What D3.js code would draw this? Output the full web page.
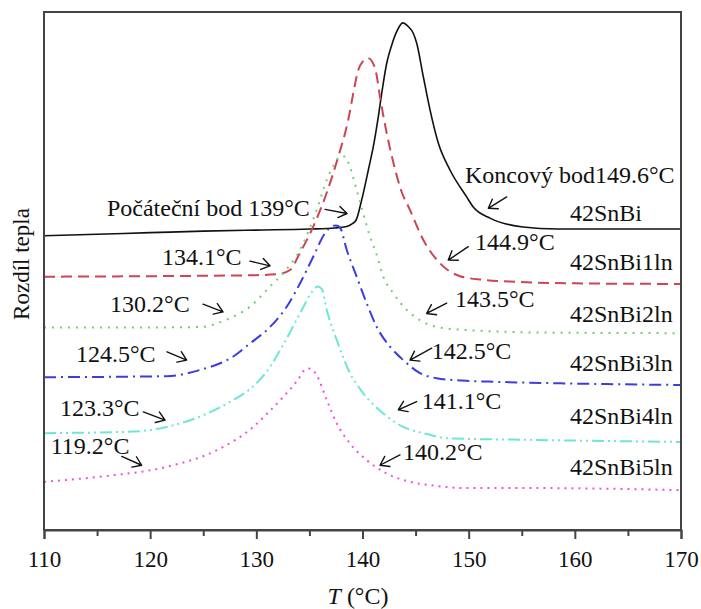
<!DOCTYPE html>
<html>
<head>
<meta charset="utf-8">
<script src="https://cdn.jsdelivr.net/npm/d3@7"></script>
<style>
  html, body { margin: 0; padding: 0; background: #fff; }
  svg { display: block; }
  text { font-family: "Liberation Serif", "Times New Roman", serif; fill: #111; }
</style>
</head>
<body>
<svg id="chart" width="701" height="609"></svg>
<script>
// DSC heating curves: temperature (°C) vs. heat difference (arbitrary units, stacked)
const sample42SnBi = [
  [110, 5.68], [115, 5.71], [120, 5.74], [125, 5.77], [130, 5.79], [135, 5.81],
  [137.41, 5.83], [138.51, 5.86], [139.01, 5.91], [139.39, 5.98], [139.92, 6.37],
  [140.55, 6.95], [141.08, 7.47], [141.49, 7.98], [141.81, 8.43], [142.28, 9.01],
  [142.75, 9.36], [143.22, 9.62], [143.79, 9.79], [144.31, 9.72], [144.78, 9.59],
  [145.10, 9.40], [145.73, 8.75], [146.36, 8.11], [147.14, 7.47], [148.24, 6.95],
  [149.81, 6.43], [150.41, 6.24], [152.01, 6.02], [155.12, 5.85], [158.32, 5.81], [170, 5.81]
];
const sample1ln = [
  [110, 4.89], [120, 4.90], [130, 4.92], [132.04, 4.94], [133.17, 5.02], [134.11, 5.35],
  [135.21, 5.79], [136.63, 6.51], [137.72, 7.21], [138.66, 7.92], [139.13, 8.43],
  [139.60, 8.88], [140.05, 9.05], [140.52, 9.11], [140.89, 9.05], [141.27, 8.84],
  [141.65, 8.36], [142.28, 7.66], [142.90, 7.10], [143.63, 6.56], [144.47, 6.18],
  [145.73, 5.60], [147.30, 5.15], [149.18, 4.90], [151.35, 4.83], [154.55, 4.79],
  [160.77, 4.76], [170, 4.75]
];
const sample2ln = [
  [110, 3.91], [120, 3.91], [124.69, 3.92], [127.52, 4.09], [129.40, 4.31], [131.29, 4.70],
  [132.54, 4.96], [134.11, 5.41], [135.69, 6.18], [136.63, 6.76], [137.41, 7.08],
  [137.88, 7.21], [138.35, 7.21], [138.82, 7.01], [139.45, 6.56], [140.07, 6.11],
  [140.71, 5.66], [141.34, 5.31], [141.96, 4.89], [142.90, 4.57], [144.16, 4.25],
  [145.41, 4.05], [146.99, 3.92], [149.81, 3.86], [157.66, 3.81], [170, 3.80]
];
const sample3ln = [
  [110, 2.95], [121.56, 2.97], [124.69, 3.09], [127.83, 3.35], [129.40, 3.60], [131.29, 3.92],
  [132.86, 4.31], [134.11, 4.76], [135.37, 5.28], [136.47, 5.73], [137.10, 5.86],
  [137.50, 5.88], [137.88, 5.84], [138.51, 5.41], [139.45, 4.89], [140.39, 4.38],
  [141.34, 3.92], [142.59, 3.54], [143.84, 3.28], [145.41, 3.03], [146.99, 2.93],
  [149.81, 2.88], [152.64, 2.86], [158.91, 2.83], [170, 2.80]
];
const sample4ln = [
  [110, 1.87], [118.41, 1.90], [121.56, 1.99], [124.69, 2.19], [127.83, 2.51], [129.40, 2.72],
  [130.98, 3.06], [132.54, 3.58], [134.11, 4.18], [135.37, 4.63], [135.76, 4.70],
  [136.18, 4.65], [136.63, 4.25], [137.57, 3.67], [138.82, 3.03], [140.07, 2.64],
  [141.96, 2.25], [143.84, 1.99], [145.73, 1.87], [148.24, 1.77], [155.78, 1.74], [170, 1.70]
];
const sample5ln = [
  [110, 0.93], [115.27, 1.03], [121.56, 1.22], [126.27, 1.54], [129.71, 1.99], [130.98, 2.24],
  [132.54, 2.57], [134.11, 2.96], [134.45, 3.07], [134.9, 3.12], [135.3, 3.09],
  [135.69, 2.99], [136.63, 2.51], [137.57, 2.06], [138.82, 1.67], [140.39, 1.35],
  [142.28, 1.09], [144.47, 0.93], [146.99, 0.85], [149.81, 0.81], [155.78, 0.81], [170, 0.77]
];

const seriesNames = ["42SnBi", "42SnBi1ln", "42SnBi2ln", "42SnBi3ln", "42SnBi4ln", "42SnBi5ln"];
const seriesData = [sample42SnBi, sample1ln, sample2ln, sample3ln, sample4ln, sample5ln];
// baseline heights of the name labels (same units as the curves)
const nameLabelY = [5.97, 5.02, 4.02, 3.06, 2.05, 1.06];
const nameLabelT = 159.54;

// onset / end temperature notes: text anchor and arrow (from -> to) in data units
const noteTexts = ["Počáteční bod 139°C", "134.1°C", "130.2°C", "124.5°C", "123.3°C", "119.2°C",
                   "Koncový bod149.6°C", "144.9°C", "143.5°C", "142.5°C", "141.1°C", "140.2°C"];
const noteAt = [[115.93, 6.06], [121.11, 5.12], [116.22, 4.21], [113.01, 3.25], [111.51, 2.20], [110.63, 1.46],
                [149.65, 6.69], [150.60, 5.41], [148.71, 4.31], [146.52, 3.31], [145.57, 2.33], [143.81, 1.35]];
const arrowFrom = [[136.47, 6.19], [129.40, 5.19], [124.98, 4.36], [121.59, 3.44], [119.35, 2.28], [117.32, 1.42],
                   [153.58, 6.43], [149.96, 5.47], [147.93, 4.38], [146.52, 3.51], [145.10, 2.48], [143.53, 1.45]];
const arrowTo = [[138.54, 6.11], [131.29, 5.10], [126.86, 4.21], [123.44, 3.28], [121.40, 2.12], [119.20, 1.25],
                 [151.85, 6.21], [148.08, 5.21], [146.04, 4.18], [144.47, 3.28], [143.37, 2.32], [141.65, 1.25]];

const xTicks = [110, 120, 130, 140, 150, 160, 170];
const xMinorTicks = [115, 125, 135, 145, 155, 165];

const styles = [
  { color: "#111111", dash: null, width: 1.6 },
  { color: "#cf4352", dash: "11,6", width: 2 },
  { color: "#6fcf6f", dash: "2,6", width: 2 },
  { color: "#3c3ce0", dash: "12,5,2,5", width: 2 },
  { color: "#6ee6d4", dash: "12,4,2,4,2,4", width: 2 },
  { color: "#f050e0", dash: "2,5", width: 2 }
];

const margin = { left: 44, top: 12, right: 20, bottom: 79 };
const W = 701, H = 609;
const iw = W - margin.left - margin.right;
const ih = H - margin.top - margin.bottom;

const svg = d3.select("#chart");
const g = svg.append("g").attr("transform", `translate(${margin.left},${margin.top})`);

const x = d3.scaleLinear().domain([110, 170]).range([0, iw]);
const y = d3.scaleLinear().domain([0, 10]).range([ih, 0]);

const line = d3.line().x(d => x(d[0])).y(d => y(d[1])).curve(d3.curveMonotoneX);

// curves
seriesData.forEach((s, i) => {
  g.append("path")
    .datum(s)
    .attr("fill", "none")
    .attr("stroke", styles[i].color)
    .attr("stroke-width", styles[i].width)
    .attr("stroke-dasharray", styles[i].dash)
    .attr("d", line);
});

// frame
g.append("rect")
  .attr("x", 0).attr("y", 0).attr("width", iw).attr("height", ih)
  .attr("fill", "none").attr("stroke", "#444").attr("stroke-width", 2);

// x axis: major + minor ticks
const xAxis = d3.axisBottom(x).tickValues(xTicks).tickSize(9).tickPadding(12).tickFormat(d3.format("d"));
const ax = g.append("g").attr("transform", `translate(0,${ih})`).call(xAxis);
ax.select(".domain").attr("stroke", "#444").attr("stroke-width", 2);
ax.selectAll(".tick line").attr("stroke", "#444").attr("stroke-width", 2);
ax.selectAll(".tick text").style("font-family", '"Liberation Serif", "Times New Roman", serif')
  .style("font-size", "23px").attr("fill", "#111");

const minor = d3.axisBottom(x).tickValues(xMinorTicks).tickSize(6).tickFormat("");
const mx = g.append("g").attr("transform", `translate(0,${ih})`).call(minor);
mx.select(".domain").remove();
mx.selectAll(".tick line").attr("stroke", "#444").attr("stroke-width", 2);

// axis titles
const xt = svg.append("text")
  .attr("x", 358).attr("y", 604)
  .attr("text-anchor", "middle").style("font-size", "24px");
xt.append("tspan").style("font-style", "italic").text("T");
xt.append("tspan").text(" (°C)");

svg.append("text")
  .attr("transform", `translate(29,${margin.top + 252}) rotate(-90)`)
  .attr("text-anchor", "middle").style("font-size", "23px")
  .text("Rozdíl tepla");

// series name labels
seriesNames.forEach((n, i) => {
  g.append("text")
    .attr("x", x(nameLabelT)).attr("y", y(nameLabelY[i]))
    .style("font-size", "24px")
    .text(n);
});

// notes with arrows
function arrowPath(p0, p1) {
  const x0 = x(p0[0]), y0 = y(p0[1]), x1 = x(p1[0]), y1 = y(p1[1]);
  const a = Math.atan2(y1 - y0, x1 - x0);
  const h = 10, s = 0.6;
  const hx1 = x1 - h * Math.cos(a - s), hy1 = y1 - h * Math.sin(a - s);
  const hx2 = x1 - h * Math.cos(a + s), hy2 = y1 - h * Math.sin(a + s);
  return `M${x0},${y0}L${x1},${y1}M${hx1},${hy1}L${x1},${y1}L${hx2},${hy2}`;
}
noteTexts.forEach((t, i) => {
  g.append("text")
    .attr("x", x(noteAt[i][0])).attr("y", y(noteAt[i][1]))
    .style("font-size", "24px")
    .text(t);
  g.append("path")
    .attr("d", arrowPath(arrowFrom[i], arrowTo[i]))
    .attr("fill", "none").attr("stroke", "#111").attr("stroke-width", 1.4)
    .attr("stroke-linecap", "round").attr("stroke-linejoin", "round");
});
</script>
</body>
</html>
